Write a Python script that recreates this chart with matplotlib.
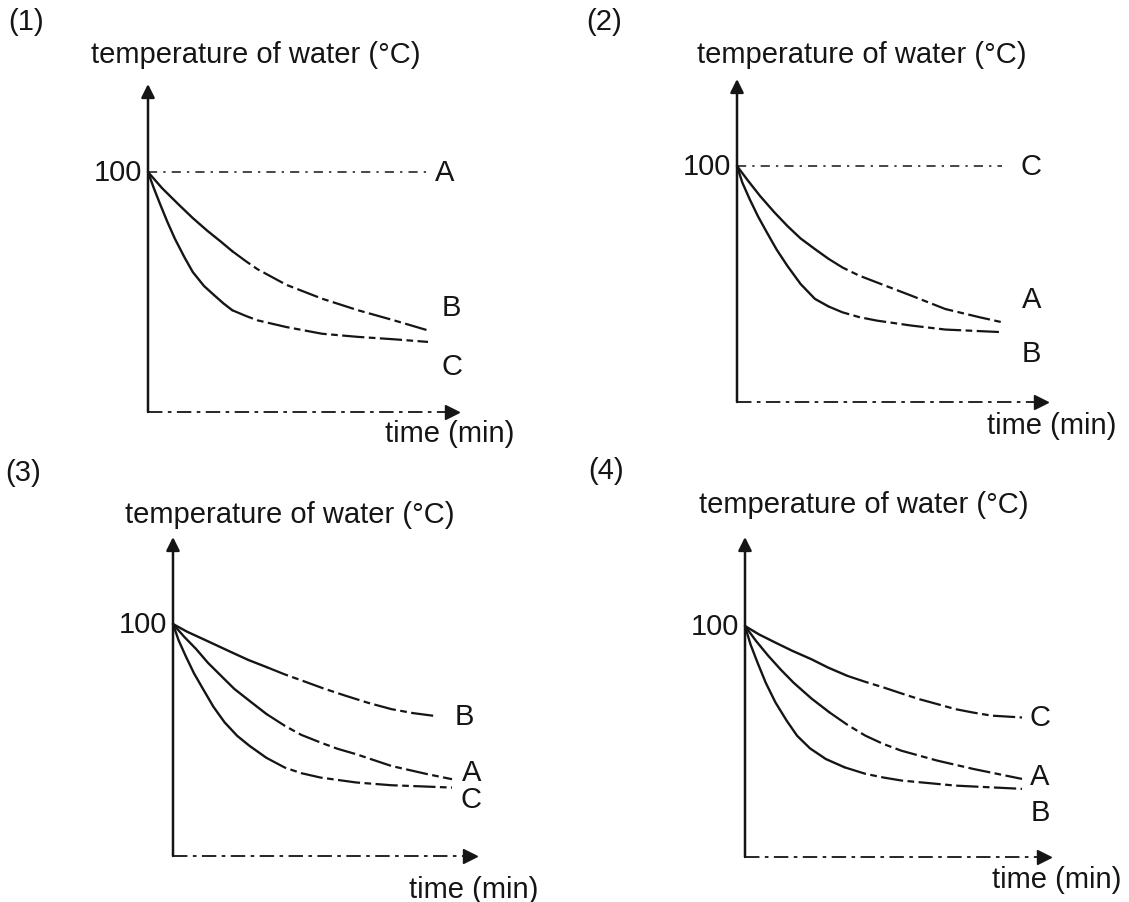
import matplotlib
matplotlib.use("Agg")
from matplotlib import pyplot as plt

plt.rcParams['font.family'] = ['Liberation Sans', 'DejaVu Sans']

# time in arbitrary units (curves end at t = 10), temperature in degC
TOP_C = 100

p1_t_B = [0, 0.5, 1.09, 1.6, 2.12, 2.6, 3.01, 3.5, 3.91, 4.94, 6.22, 7.50, 8.78, 10]
p1_temp_B = [100, 93.3, 86.5, 80.8, 75.5, 71.0, 67.0, 62.8, 59.5, 53.0, 47.2, 42.4, 38.2, 34.0]
p1_t_C = [0, 0.2, 0.45, 0.7, 0.96, 1.3, 1.6, 2.0, 2.37, 2.7, 3.01, 3.5, 3.91, 4.94, 6.22, 7.50, 8.78, 10]
p1_temp_C = [100, 93.5, 86.1, 79.0, 72.2, 64.5, 58.3, 52.5, 48.6, 45.2, 42.4, 40.0, 38.2, 35.4, 32.6, 31.3, 30.3, 29.2]

p2_t_A = [0, 0.4, 0.87, 1.4, 1.90, 2.4, 2.94, 3.45, 3.98, 4.6, 5.27, 6.57, 7.86, 9.16, 10]
p2_temp_A = [100, 94.0, 87.3, 80.5, 74.6, 69.3, 64.8, 60.7, 57.0, 53.6, 50.7, 45.1, 39.4, 35.9, 33.8]
p2_t_B = [0, 0.2, 0.48, 0.8, 1.13, 1.5, 1.90, 2.4, 2.94, 3.45, 3.98, 4.6, 5.27, 6.57, 7.86, 10]
p2_temp_B = [100, 93.0, 85.9, 78.5, 71.8, 64.5, 57.7, 50.0, 43.7, 40.5, 38.0, 36.0, 34.5, 32.4, 30.7, 29.6]

p3_t_B = [0, 0.5, 1.08, 1.6, 2.10, 2.7, 3.38, 4.0, 4.65, 5.4, 6.18, 7.0, 7.83, 8.6, 9.36]
p3_temp_B = [100, 96.7, 93.5, 90.6, 87.8, 84.5, 81.3, 78.3, 75.5, 72.2, 69.1, 66.0, 63.3, 61.6, 60.4]
p3_t_A = [0, 0.4, 0.83, 1.25, 1.72, 2.2, 2.74, 3.35, 4.01, 4.6, 5.29, 5.9, 6.56, 7.83, 9.11, 10]
p3_temp_A = [100, 94.5, 89.2, 83.3, 77.7, 72.0, 66.9, 61.2, 56.1, 52.2, 48.9, 46.2, 43.9, 38.8, 35.3, 33.1]
p3_t_C = [0, 0.2, 0.45, 0.75, 1.08, 1.45, 1.85, 2.3, 2.74, 3.35, 4.01, 4.6, 5.29, 6.56, 7.83, 10]
p3_temp_C = [100, 93.0, 86.3, 78.8, 71.9, 64.3, 57.6, 51.8, 47.5, 42.3, 38.1, 35.7, 33.8, 31.7, 30.5, 29.5]

p4_t_C = [0, 0.5, 1.10, 1.7, 2.40, 3.0, 3.70, 4.35, 5.0, 5.65, 6.30, 7.0, 7.60, 8.25, 8.90, 10]
p4_temp_C = [100, 96.4, 92.8, 89.3, 85.6, 82.0, 78.4, 75.8, 73.4, 70.8, 68.3, 66.0, 64.0, 62.5, 61.2, 60.4]
p4_t_A = [0, 0.4, 0.84, 1.3, 1.75, 2.4, 3.05, 3.7, 4.35, 5.0, 5.65, 6.95, 8.25, 10]
p4_temp_A = [100, 93.5, 87.1, 81.0, 75.5, 68.6, 62.6, 57.2, 52.5, 48.9, 46.0, 41.7, 38.1, 33.8]
p4_t_B = [0, 0.2, 0.45, 0.75, 1.10, 1.5, 1.88, 2.35, 2.92, 3.6, 4.35, 5.0, 5.65, 7.60, 10]
p4_temp_B = [100, 92.0, 84.2, 75.4, 66.9, 59.1, 52.5, 47.0, 42.4, 38.8, 36.0, 34.4, 33.1, 30.9, 29.5]

# constant curve at boiling point
flat_t = [0, 10]
flat_temp = [100, 100]

PANELS = [
    ("(1)", [("A", flat_t, flat_temp), ("B", p1_t_B, p1_temp_B), ("C", p1_t_C, p1_temp_C)]),
    ("(2)", [("C", flat_t, flat_temp), ("A", p2_t_A, p2_temp_A), ("B", p2_t_B, p2_temp_B)]),
    ("(3)", [("B", p3_t_B, p3_temp_B), ("A", p3_t_A, p3_temp_A), ("C", p3_t_C, p3_temp_C)]),
    ("(4)", [("C", p4_t_C, p4_temp_C), ("A", p4_t_A, p4_temp_A), ("B", p4_t_B, p4_temp_B)]),
]

W, H = 1129, 903
# pixel layout: y-axis x, x-axis y, x of t=10, y of 100, arrow tips, text spots, label offsets (pt)
LAYOUT = [
    dict(x0=148, y0=413, x10=428, y100=173, xtip=457, ytop=85, num=(26, 22), title=(256, 55),
         time=(450, 434), offs={"A": (12, 0), "B": (17, 17), "C": (17, -17)}),
    dict(x0=737, y0=403, x10=1002, y100=167, xtip=1046, ytop=80, num=(604, 22), title=(862, 55),
         time=(1052, 426), offs={"C": (21, 0), "A": (21, 17), "B": (21, -15)}),
    dict(x0=173, y0=857, x10=452, y100=625, xtip=475, ytop=538, num=(23, 473), title=(290, 515),
         time=(474, 890), offs={"B": (22, 0), "A": (14, 5), "C": (14, -8)}),
    dict(x0=745, y0=858, x10=1022, y100=627, xtip=1049, ytop=538, num=(606, 471), title=(864, 505),
         time=(1057, 880), offs={"C": (13, 0), "A": (13, 2), "B": (13, -17)}),
]

FS = 21
INK = "#151515"

fig = plt.figure(figsize=(W / 100, H / 100), dpi=100)

for (num, curves), lay in zip(PANELS, LAYOUT):
    t_max = 10 * (lay["xtip"] - lay["x0"]) / (lay["x10"] - lay["x0"])
    c_max = TOP_C * (lay["y0"] - lay["ytop"]) / (lay["y0"] - lay["y100"])
    ax = fig.add_axes([lay["x0"] / W, 1 - lay["y0"] / H,
                       (lay["xtip"] - lay["x0"]) / W, (lay["y0"] - lay["ytop"]) / H])
    ax.set_xlim(0, t_max)
    ax.set_ylim(0, c_max)
    ax.axis("off")

    # y axis with arrow
    ax.annotate("", xy=(0, c_max), xytext=(0, 0), annotation_clip=False,
                arrowprops=dict(arrowstyle="-|>", lw=1.8, color=INK, mutation_scale=20,
                                shrinkA=0, shrinkB=0))
    # x axis, scanned as broken dash-dot
    ax.plot([0, t_max * 0.97], [0, 0], color=INK, lw=1.3, dashes=(8, 3, 2, 3), clip_on=False)
    ax.plot([t_max * 0.985], [0], marker=">", ms=10, color=INK, clip_on=False)

    ax.annotate("100", xy=(0, TOP_C), xytext=(-4, 0), textcoords="offset points",
                ha="right", va="center", fontsize=FS, color=INK)

    for letter, ts, temps in curves:
        if temps[0] == temps[-1]:
            ax.plot(ts, temps, color=INK, lw=1.1, dashes=(6, 4, 1.5, 4), clip_on=False)
        else:
            k = sum(1 for t in ts if t <= 3.0)
            ax.plot(ts[:k + 1], temps[:k + 1], color=INK, lw=1.7, clip_on=False,
                    solid_joinstyle="round", solid_capstyle="round")
            ax.plot(ts[k:], temps[k:], color=INK, lw=1.6, dashes=(10, 2, 3, 2), clip_on=False)
        dx, dy = lay["offs"][letter]
        ax.annotate(letter, xy=(ts[-1], temps[-1]), xytext=(dx, dy), textcoords="offset points",
                    ha="center", va="center", fontsize=FS, color=INK)

    fig.text(lay["num"][0] / W, 1 - lay["num"][1] / H, num, ha="center", va="center",
             fontsize=FS, color=INK)
    fig.text(lay["title"][0] / W, 1 - lay["title"][1] / H, "temperature of water (\u00b0C)",
             ha="center", va="center", fontsize=FS, color=INK)
    fig.text(lay["time"][0] / W, 1 - lay["time"][1] / H, "time (min)",
             ha="center", va="center", fontsize=FS, color=INK)

fig.savefig("out.png", dpi=100, facecolor="white")
